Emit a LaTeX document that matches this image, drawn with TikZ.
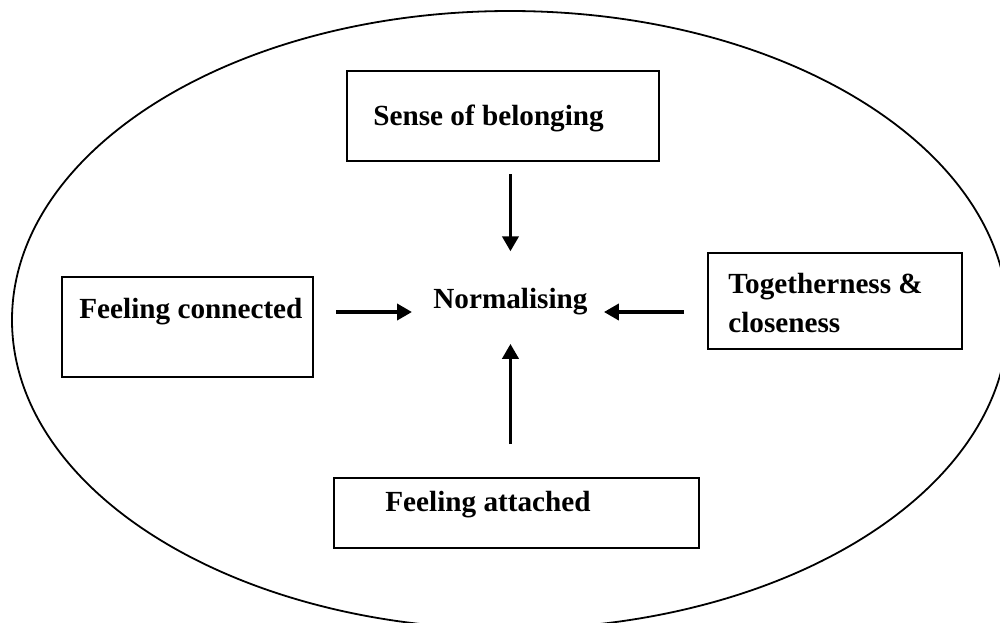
\documentclass[tikz,border=0pt]{standalone}
\usepackage{fontspec}
\setmainfont{Liberation Serif}
\usetikzlibrary{arrows.meta,calc}

\tikzset{
  box/.style={draw, line width=1pt, rectangle, inner sep=0pt},
  lbl/.style={inner sep=0pt, anchor=base west, font=\fontsize{14.6pt}{19.5pt}\selectfont\bfseries},
  arr/.style={line width=1.9pt, -{Triangle[length=7.5pt,width=8pt]}}
}

\begin{document}
\begin{tikzpicture}[x=0.5pt, y=-0.5pt]
  \useasboundingbox (0,0) rectangle (1000,622);
  \clip (0,0) rectangle (1000,622);
  \fill[white] (0,0) rectangle (1000,622);

  % enclosing ellipse
  \draw[line width=0.9pt] (510,320) ellipse [x radius=249pt, y radius=154.5pt];

  % outer boxes
  \node[box, minimum width=156pt, minimum height=45pt] (sense) at (503,116) {};
  \node[box, minimum width=125.5pt, minimum height=50pt] (connected) at (187.5,327) {};
  \node[box, minimum width=127pt, minimum height=48pt] (together) at (835,301) {};
  \node[box, minimum width=182.5pt, minimum height=35pt] (attached) at (516.5,513) {};

  % labels (the two-line label sits on the baseline of its last line)
  \node[lbl] (senseT) at (373,125) {Sense of belonging};
  \node[lbl] (connectedT) at (79,318) {Feeling connected};
  \node[lbl, align=left] (togetherT) at (728,332) {Togetherness \&\\closeness};
  \node[lbl] (attachedT) at (385,511) {Feeling attached};
  \node[lbl] (norm) at (433,308) {Normalising};

  % arrows into the centre
  \draw[arr, shorten <=6pt, shorten >=18pt] (norm.north |- sense.south) -- (norm.north);
  \draw[arr, shorten <=16.5pt, shorten >=14.5pt] (norm.south |- attached.north) -- (norm.south);
  \draw[arr, shorten <=11pt, shorten >=10.5pt]
    ([yshift=-2pt]norm.base west -| connected.east) -- ([yshift=-2pt]norm.base west);
  \draw[arr, shorten <=11.5pt, shorten >=8pt]
    ([yshift=-2pt]norm.base east -| together.west) -- ([yshift=-2pt]norm.base east);
\end{tikzpicture}
\end{document}
